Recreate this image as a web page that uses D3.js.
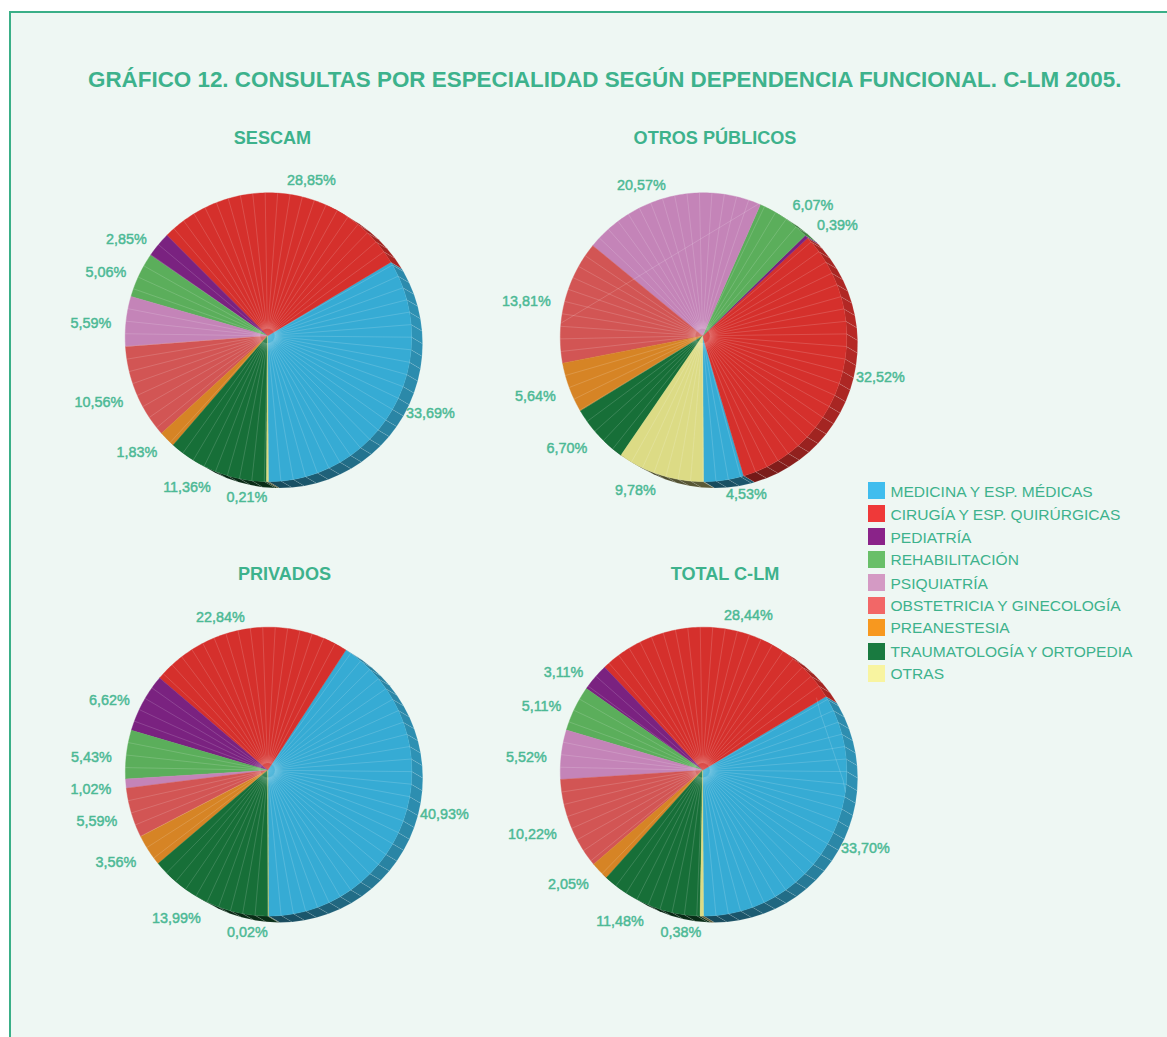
<!DOCTYPE html>
<html lang="es">
<head>
<meta charset="utf-8">
<title>Consultas por especialidad</title>
<script src="https://cdn.jsdelivr.net/npm/d3@7/dist/d3.min.js"></script>
<style>
  html, body { margin: 0; padding: 0; background: #fff; }
  svg { display: block; }
  text { font-family: "Liberation Sans", Arial, sans-serif; }
</style>
</head>
<body>
<svg id="chart" width="1167" height="1037"></svg>
<script>
// Especialidades, in drawing order (counter-clockwise from six o'clock)
const especialidades = [
  "MEDICINA Y ESP. MÉDICAS", "CIRUGÍA Y ESP. QUIRÚRGICAS", "PEDIATRÍA", "REHABILITACIÓN",
  "PSIQUIATRÍA", "OBSTETRICIA Y GINECOLOGÍA", "PREANESTESIA", "TRAUMATOLOGÍA Y ORTOPEDIA", "OTRAS"
];

// Share of consultations (%) per dependencia funcional
const sescam        = [33.69, 28.85, 2.85, 5.06, 5.59, 10.56, 1.83, 11.36, 0.21];
const otrosPublicos = [4.53, 32.52, 0.39, 6.07, 20.57, 13.81, 5.64, 6.70, 9.78];
const privados      = [40.93, 22.84, 6.62, 5.43, 1.02, 5.59, 3.56, 13.99, 0.02];
const totalClm      = [33.70, 28.44, 3.11, 5.11, 5.52, 10.22, 2.05, 11.48, 0.38];

// Colours: legend keys and the slightly deeper pie faces
const legendColors = ["#40bdee", "#ef3939", "#8a2389", "#69bf69", "#d49ac4", "#f26767", "#f7981f", "#197a40", "#f8f4a0"];
const faceColors   = ["#36abd4", "#d5302c", "#7a2280", "#5bae5b", "#c484b8", "#d25554", "#d68425", "#176f38", "#dcdb85"];
const ink = "#3db28c";
const labelInk = "#4cb995";

// Hand-placed label centres for each pie, in page pixels
const sescamLabels = [[430.5,413],[311.5,180],[126.5,239],[106,272],[91,323],[99,402],[137,452],[187,487],[247,497]];
const otrosLabels  = [[746.5,494],[880.5,377],[837.5,225],[813,205],[641.5,185],[526.5,301],[535.5,396],[567,448],[635.5,490]];
const privadosLabels = [[444.5,814],[220.5,617],[109.5,700],[91.5,757],[91,789],[97,821],[116,862],[176.5,918],[247.5,932]];
const totalLabels  = [[865.5,848],[748.5,615],[563.5,672],[541.5,706],[526.5,757],[532.5,834],[568.5,884],[620,921],[681,932]];

// Stray render seams on the top face: [clock degrees, radius] vertices
const otrosSeam = [[22.7, 145], [275.7, 143]];
const totalSeam = [[56.8, 135], [63.6, 130.6], [93.7, 140], [98.4, 143.5]];

const pies = [
  { title: "SESCAM",         values: sescam,        labels: sescamLabels,   cx: 268.4, cy: 337.2, tx: 272.5, ty: 144, seam: [] },
  { title: "OTROS PÚBLICOS", values: otrosPublicos, labels: otrosLabels,    cx: 703.5, cy: 337.2, tx: 715,   ty: 144, seam: otrosSeam },
  { title: "PRIVADOS",       values: privados,      labels: privadosLabels, cx: 268.6, cy: 771.6, tx: 284.5, ty: 580, seam: [] },
  { title: "TOTAL C-LM",     values: totalClm,      labels: totalLabels,    cx: 703.5, cy: 771.6, tx: 725,   ty: 580, seam: totalSeam }
];

// The disc is seen under a slight tilt, so its hub sits off the rim's centre
const rim = { rx: 143.2, ry: 144.4 };
const hub = { x: -0.9, y: -1.3 };
const depth = { x: 11, y: 6.5 };
const degree = Math.PI / 180;
const facetStep = 5 * degree;
const legendTops = [482, 505, 528, 551, 574, 597, 619, 643, 665];
const legendBaselines = [497, 519.5, 543, 565, 589, 611, 633, 657, 679];

const svg = d3.select("#chart");

// Soft sheen where the facet lines gather at the hub
const sheen = svg.append("defs").append("radialGradient").attr("id", "hubSheen");
sheen.append("stop").attr("offset", 0).attr("stop-color", "#fff").attr("stop-opacity", 0.22);
sheen.append("stop").attr("offset", 1).attr("stop-color", "#fff").attr("stop-opacity", 0);

// Sheet: tinted panel with a rule along the top and left only
svg.append("rect").attr("x", 10).attr("y", 12).attr("width", 1157).attr("height", 1025).attr("fill", "#eef7f3");
svg.append("path").attr("d", "M10,1037V12H1167").attr("fill", "none").attr("stroke", "#3aaf87").attr("stroke-width", 2);

svg.append("text")
  .attr("x", 88).attr("y", 87)
  .attr("font-size", 22.4).attr("font-weight", "bold").attr("fill", ink)
  .text("GRÁFICO 12. CONSULTAS POR ESPECIALIDAD SEGÚN DEPENDENCIA FUNCIONAL. C-LM 2005.");

// Slices run counter-clockwise from the bottom, in list order
const pieLayout = d3.pie().sort(null).startAngle(Math.PI).endAngle(-Math.PI);

// Rim point for an angle, on the slightly flattened outline
function rimPoint(a, k = 1) {
  const [x, y] = d3.pointRadial(a, k);
  return [x * rim.rx, y * rim.ry];
}

const polygon = d3.line().curve(d3.curveLinearClosed);

// Side wall brightness by the clock angle (degrees) of the facet it belongs to
const wallShade = d3.scaleLinear()
  .domain([30, 85, 130, 150, 180, 215])
  .range([0.72, 0.86, 0.76, 0.62, 0.42, 0.3])
  .clamp(true);

function shade(color, k) {
  const c = d3.rgb(color);
  return d3.rgb(c.r * k, c.g * k, c.b * k).formatHex();
}

function facetAngles(d) {
  const list = [];
  for (let a = d.startAngle; a > d.endAngle; a -= facetStep) list.push(a);
  return list;
}

// Outline of a slice: hub, then rim samples one degree apart
function sliceOutline(d) {
  const pts = [[hub.x, hub.y]];
  for (let a = d.startAngle; a > d.endAngle; a -= degree) pts.push(rimPoint(a));
  pts.push(rimPoint(d.endAngle));
  return polygon(pts);
}

pies.forEach(p => {
  const g = svg.append("g").attr("transform", `translate(${p.cx},${p.cy})`);
  const slices = pieLayout(p.values);

  // Extruded wall, one quad per facet, offset toward the lower right
  const wall = g.append("g");
  slices.forEach(d => {
    facetAngles(d).forEach(a0 => {
      const a1 = Math.max(a0 - facetStep, d.endAngle);
      const deg = (((a0 + a1) / 2 / degree) % 360 + 360) % 360;
      if (deg < 25 || deg > 225) return;
      const [x0, y0] = rimPoint(a0);
      const [x1, y1] = rimPoint(a1);
      wall.append("path")
        .attr("d", polygon([[x0, y0], [x1, y1], [x1 + depth.x, y1 + depth.y], [x0 + depth.x, y0 + depth.y]]))
        .attr("fill", shade(faceColors[d.index], wallShade(deg)))
        .attr("stroke", "#fff").attr("stroke-opacity", 0.16).attr("stroke-width", 0.6);
    });
  });

  // Top face
  g.append("g").selectAll("path").data(slices).join("path")
    .attr("d", sliceOutline)
    .attr("fill", d => faceColors[d.index])
    .attr("stroke", d => faceColors[d.index])
    .attr("stroke-width", 0.4);

  // Faint radial facet lines, stopping just short of the hub
  const facets = g.append("g").attr("stroke", "#fff").attr("stroke-opacity", 0.22).attr("stroke-width", 0.7);
  slices.forEach(d => {
    facetAngles(d).slice(1).forEach(a => {
      const [x, y] = rimPoint(a);
      const [sx, sy] = rimPoint(a, 0.05);
      facets.append("line")
        .attr("x1", hub.x + sx).attr("y1", hub.y + sy)
        .attr("x2", x).attr("y2", y);
    });
  });

  g.append("circle")
    .attr("cx", hub.x).attr("cy", hub.y).attr("r", 16)
    .attr("fill", "url(#hubSheen)");

  // Seam lines
  if (p.seam.length) {
    g.append("path")
      .attr("d", d3.line()(p.seam.map(([deg, r]) => d3.pointRadial(deg * degree, r))))
      .attr("fill", "none").attr("stroke", "#fff").attr("stroke-opacity", 0.2).attr("stroke-width", 0.8);
  }

  // Pie heading
  svg.append("text")
    .attr("x", p.tx).attr("y", p.ty).attr("text-anchor", "middle")
    .attr("font-size", 18.1).attr("font-weight", "bold").attr("fill", ink)
    .text(p.title);

  // Value labels, Spanish decimal comma
  svg.append("g").selectAll("text").data(slices).join("text")
    .attr("x", d => p.labels[d.index][0])
    .attr("y", d => p.labels[d.index][1])
    .attr("dy", "0.36em")
    .attr("text-anchor", "middle")
    .attr("font-size", 14.4)
    .attr("fill", labelInk)
    .attr("stroke", labelInk).attr("stroke-width", 0.45)
    .text(d => d.data.toFixed(2).replace(".", ",") + "%");
});

// Legend
const legend = svg.append("g").selectAll("g").data(especialidades).join("g");
legend.append("rect")
  .attr("x", 868).attr("y", (d, i) => legendTops[i])
  .attr("width", 17).attr("height", 17)
  .attr("fill", (d, i) => legendColors[i]);
legend.append("text")
  .attr("x", 890.5).attr("y", (d, i) => legendBaselines[i])
  .attr("font-size", 15.55).attr("fill", ink)
  .text(d => d);
</script>
</body>
</html>
